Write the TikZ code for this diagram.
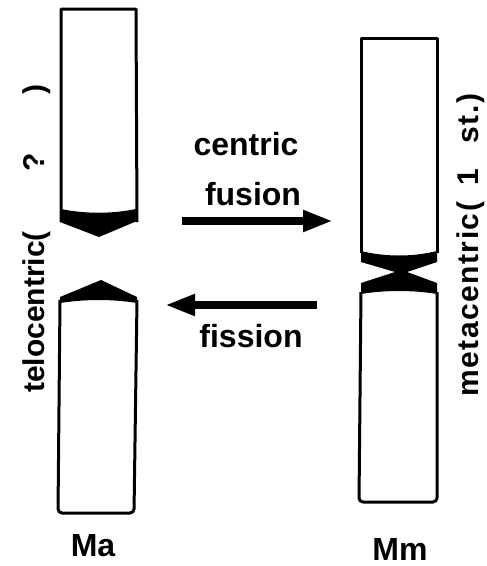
\documentclass[tikz,border=0pt]{standalone}
\usepackage{fontspec}
\setmainfont{Liberation Sans}
\usetikzlibrary{arrows.meta}

\begin{document}
\begin{tikzpicture}[x=1pt,y=-1pt,
    chromo/.style={draw=black,line width=3pt,line join=round},
    band/.style={fill=black},
    bigarrow/.style={line width=8pt,-{Triangle[length=30pt,width=20pt]}},
    lbl/.style={font=\fontsize{32}{32}\selectfont\bfseries,inner sep=0pt},
    sidelbl/.style={lbl,rotate=90,anchor=base west}]
\useasboundingbox (0,0) rectangle (487,566);

% telocentric pair (Ma)
\draw[chromo] (61,222) -- (61,9) -- (136,9) -- (137,222);
\fill[band] (61,209) .. controls (86,214) and (111,214) .. (136,209)
    -- (137,221) -- (99,237) -- (60,222) -- cycle;
\fill[band] (101,280) -- (137,297) -- (137,303)
    .. controls (112,299) and (86,299) .. (60,303) -- (60,297) -- cycle;
\draw[chromo,rounded corners=4pt] (60,300) -- (58,513) -- (134,513) -- (137,300);

% metacentric (Mm)
\draw[chromo] (361,253) -- (361,38) -- (437,38) -- (437,253);
\draw[chromo,rounded corners=4pt] (361,292) -- (359,502) -- (437,502) -- (437,292);
\fill[band] (361,251) .. controls (385,257) and (413,257) .. (437,251)
    -- (437,262) -- (407,272) -- (437,283) -- (437,294)
    .. controls (413,290) and (385,290) .. (361,294)
    -- (361,283) -- (395,272) -- (361,262) -- cycle;

% arrows
\coordinate (fuA) at (182,221);
\coordinate (fuB) at (333,221);
\coordinate (fiA) at (317,305);
\coordinate (fiB) at (165,305);
\draw[bigarrow] (fuA) -- (fuB);
\draw[bigarrow] (fiA) -- (fiB);

\node[lbl,anchor=base] (centric) at (246,155) {centric};
\node[lbl,anchor=base] (fusion) at (253,205) {fusion};
\node[lbl,anchor=base] (fission) at (251,347) {fission};

\node[lbl,anchor=base] (ma) at (93,556) {Ma};
\node[lbl,anchor=base] (mm) at (400,560) {Mm};

\node[sidelbl,font=\fontsize{30}{30}\selectfont\bfseries] (telo) at (44,393)
    {telocentric(\hspace{60pt}?\hspace{58pt})};
\node[sidelbl,font=\fontsize{30}{30}\selectfont\bfseries\addfontfeature{LetterSpace=5}]
    (meta) at (478,397) {metacentric(\hspace{16pt}1\hspace{26pt}st.)};

\end{tikzpicture}
\end{document}
